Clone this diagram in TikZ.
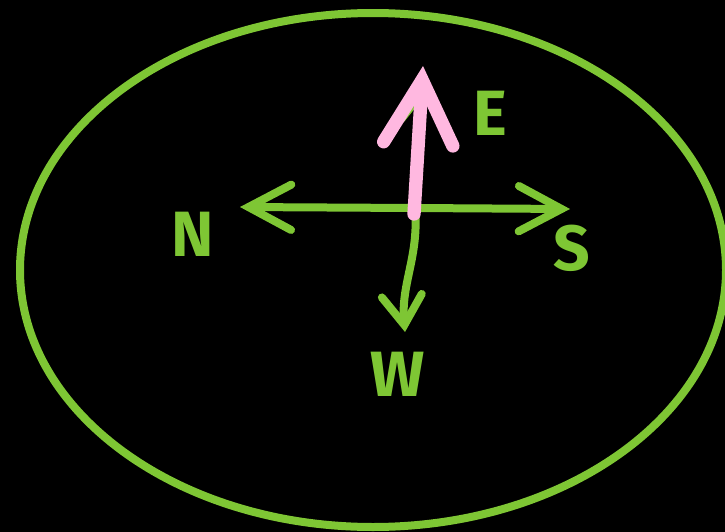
\documentclass[tikz,border=0pt]{standalone}
\usepackage{fontspec}
\setsansfont{Fira Sans}
\usetikzlibrary{arrows.meta,positioning}
\definecolor{pengreen}{RGB}{126,198,52}
\definecolor{penpink}{RGB}{255,184,224}
\tikzset{
  pen/.style={draw=pengreen,line width=6pt,line cap=round,line join=round},
  arr/.style={pen,-{Straight Barb[length=32pt,width=34pt,line cap=round]}},
  shortarr/.style={pen,-{Straight Barb[length=22pt,width=30pt,line cap=round]}},
  pinkarr/.style={draw=penpink,line width=10pt,line cap=round,line join=round,
    -{Straight Barb[length=48pt,width=52pt,line cap=round]}},
  lbl/.style={text=pengreen,font=\sffamily\bfseries\fontsize{48}{48}\selectfont}
}
\begin{document}
\begin{tikzpicture}[x=0.75pt,y=-0.75pt]
\fill[black] (0,0) rectangle (725,532);
\useasboundingbox (0,0) rectangle (725,532);
\draw[pen] (373,270) ellipse [x radius=353,y radius=257];
% centre of the cross and the four tips
\coordinate (o) at (415,208);
\coordinate (tipN) at (240,207);
\coordinate (tipS) at (570,209);
\coordinate (tipW) at (405,332);
\coordinate (tipE) at (424,84);
\coordinate (base) at (414,214);
\coordinate (tipUp) at (423,66);
\draw[arr] (o) -- (tipN);
\draw[arr] (o) -- (tipS);
\draw[shortarr] (o) to[out=-85,in=95] (tipW);
\draw[shortarr] (o) -- (tipE);
% pink arrow on top
\draw[pinkarr] (base) -- (tipUp);
\node[lbl] (N) at (193,234) {N};
\node[lbl] (E) at (490,113) {E};
\node[lbl] (S) at (572,248) {S};
\node[lbl] (W) at (398,374) {W};
\end{tikzpicture}
\end{document}
